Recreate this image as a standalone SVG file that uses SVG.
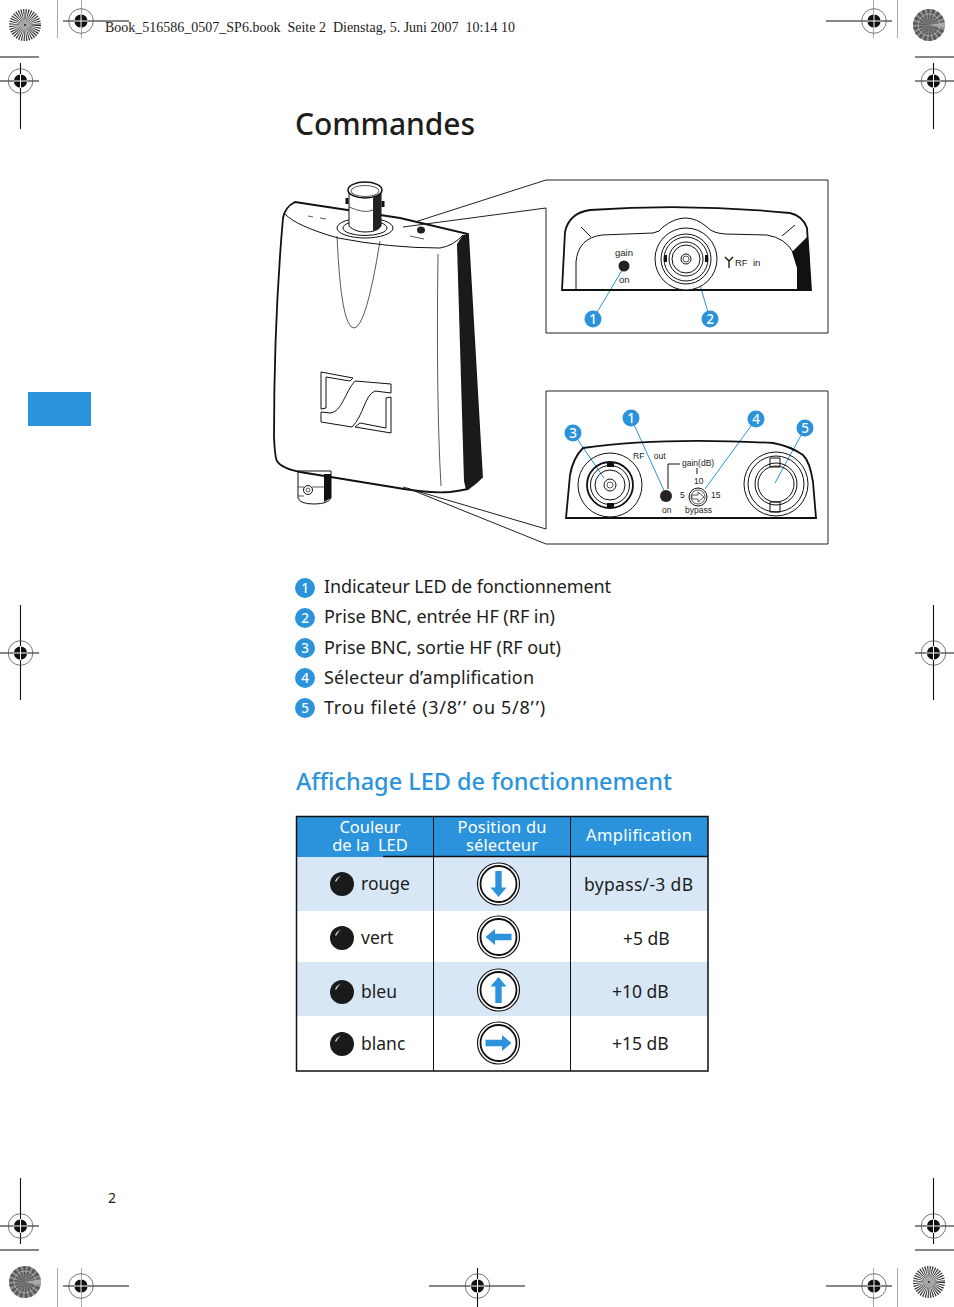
<svg xmlns="http://www.w3.org/2000/svg" width="954" height="1307" viewBox="0 0 954 1307">
<style>
text{font-family:"Noto Sans","Open Sans",sans-serif;fill:#1d1d1b}
.l{font-size:18px}
.h{font-size:16.500px;fill:#fff;text-anchor:middle}
.c{font-size:17.500px}
.lab{font-size:8.500px;font-family:"Liberation Sans",sans-serif;fill:#222}
.lab2{font-size:9.500px;font-family:"Liberation Sans",sans-serif;fill:#222}
.o{fill:none;stroke:#111;stroke-width:1}
.o2{fill:none;stroke:#111;stroke-width:1.800}
.t{fill:none;stroke:#111;stroke-width:.7}
.box{fill:none;stroke:#222;stroke-width:1}
.b{fill:none;stroke:#2a93dc;stroke-width:1}
.n{fill:#2a93dc}
.nt{font-size:13.500px;fill:#fff;text-anchor:middle;font-weight:500}
.k{stroke:#111;stroke-width:1.100;fill:none}
.g{stroke:#aaa;stroke-width:1;fill:none}
.a{fill:#2a93dc}
</style>
<defs>
<g id="reg"><circle r="12.300" fill="none" stroke="#555" stroke-width=".8"/><circle r="6.600" fill="#111"/><path d="M-7 0H7M0-7V7" stroke="#fff" stroke-width="1"/></g>
<g id="wheel"><circle r="16" fill="#fff"/><circle r="8" fill="none" stroke="#333" stroke-width="16" stroke-dasharray=".7 .7"/><circle r="5" fill="#aaa" opacity=".8"/><circle r="1" fill="#222"/></g>
<g id="wheeld"><circle r="16" fill="#8a8a8a"/><circle r="8" fill="none" stroke="#333" stroke-width="16" stroke-dasharray="1.400 1.400" opacity=".6"/><circle r="11" fill="none" stroke="#ccc" stroke-width="1" opacity=".6"/><path d="M0 0L16-3V3Z" fill="#aaa"/></g>
<g id="ledg"><circle r="12" fill="#1a1a1a"/><path d="M-7-3Q-5-7-1-8.500Q-4-6-6-2Z" fill="#ccc"/></g>
<g id="dial"><circle r="21" fill="#fff" stroke="#111" stroke-width="1.200"/><circle r="18" fill="none" stroke="#111" stroke-width="1.800"/></g>
<g id="arrow"><path class="a" d="M-3.200-13H3.200V3.500H8L0 13L-8 3.500H-3.200Z"/></g>
</defs>

<g id="printmarks">
<path class="k" d="M63 21H129M0 81H39M20.500 63V129M0 57H39M915 81H954M933.500 63V129M915 57H954M826 21H892M0 653H39M20.500 605V700M915 653H954M933.500 605V700M0 1226H39M20.500 1178V1244M0 1250H39M915 1226H954M933.500 1178V1244M915 1250H954M63 1286H129M429 1286H525M477.500 1268V1307M826 1286H892"/>
<path class="g" d="M57.500 0V38M81.500 0V38M897.500 0V38M873.500 0V38M57.500 1268V1307M81.500 1268V1307M897.500 1268V1307M873.500 1268V1307"/>
<use href="#reg" x="81" y="21"/><use href="#reg" x="20.500" y="81"/><use href="#reg" x="874" y="21"/><use href="#reg" x="933.500" y="81"/>
<use href="#reg" x="20.500" y="653"/><use href="#reg" x="933.500" y="653"/><use href="#reg" x="20.500" y="1226"/><use href="#reg" x="933.500" y="1226"/>
<use href="#reg" x="81" y="1286"/><use href="#reg" x="477.500" y="1286"/><use href="#reg" x="874" y="1286"/>
<use href="#wheel" x="25" y="25"/><use href="#wheeld" x="929" y="25"/><use href="#wheeld" x="25" y="1282"/><use href="#wheel" x="929" y="1282"/>
</g>
<text x="105" y="32" style="font-family:'Liberation Serif',serif;font-size:14px" xml:space="preserve">Book_516586_0507_SP6.book  Seite 2  Dienstag, 5. Juni 2007  10:14 10</text>
<rect id="tab" x="28" y="392" width="63" height="34" fill="#2a93dc"/>
<text x="295" y="135" textLength="180" style="font-size:30px;font-weight:500">Commandes</text>

<g id="device">
<path d="M298 471H331V498Q328 504 314 504Q300 504 298 498Z" fill="#fff" stroke="#111"/>
<path d="M324 474H331V498L324 502Z" fill="#111"/>
<circle cx="308" cy="490" r="4.500" class="o"/><circle cx="308" cy="490" r="2" class="t"/><path class="t" d="M298 487H304M312 487H324M298 496H304"/>
<path class="o2" d="M295 202Q285 207 283 218Q274 320 274 437Q275 458 277 461Q281 468 300 472L392 487Q430 494 450 492Q458 491 468 489L482 477L468 234L400 218L295 202Z" fill="#fff"/>
<path d="M457 244L463 235L468 234L482 476Q480 483 466 490L464 481Z" fill="#1a1a1a"/>
<path class="o" d="M285 214Q296 226 338 238Q390 248 440 248Q453 246 463 235"/>
<path class="t" d="M337 236Q341 328 354 328Q366 328 380 241"/>
<path class="t" d="M438 254Q436 400 441 486"/>
<path class="o" d="M321 372L353 378L350 381L326 377V408L321 409Z"/>
<path class="o" d="M321 412L330 413C342 412 345 392 355 381L391 384V393L375 391C364 396 364 415 352 427L321 422Z"/>
<path class="o" d="M391 397V433L355 427L360 423L386 428V398Z"/>
<ellipse cx="365" cy="228" rx="28" ry="10" class="o" fill="#fff"/>
<ellipse cx="365" cy="228" rx="22" ry="7.500" class="o"/>
<path d="M349 191V226Q355 232 365 232Q378 232 381 226V191Z" fill="#fff" stroke="#111"/>
<path d="M373 198L381 191V226Q378 230 373 231Z" fill="#222"/>
<path d="M347 198V204M383 201V207" stroke="#111" stroke-width="3"/>
<ellipse cx="365" cy="190" rx="17" ry="8" fill="#fff" stroke="#111" stroke-width="1.500"/>
<ellipse cx="365" cy="191" rx="14" ry="5.500" class="t"/>
<path class="t" d="M349 207Q365 214 373 210"/>
<ellipse cx="421" cy="230" rx="4" ry="3.500" fill="#222"/>
<path class="t" d="M410 236L424 239M320 218L326 219M308 216L313 217"/>
</g>

<g id="connectors">
<path class="box" d="M415 222L546 180H828V333H546V208L403 227"/>
<path class="box" d="M403 487L546 529V391H828V544H546L407 488"/>
<path class="b" d="M593 319L624 267M710 319L695 268M573 433L604 478M631 418L666 495M756 419L705 489M805 428L775 483"/>
</g>

<g id="detail-top">
<path d="M792 252L807 237L809 250L811 290H797V268Z" fill="#111"/>
<path class="o2" d="M562 290H811L807 228Q803 216 790 213Q690 203 590 210Q569 213 565 232Z"/>
<path class="o" d="M576 289V262Q578 238 602 235L653 233Q660 232 663 227Q686 209 707 227Q712 233 725 234L767 235Q785 238 793 252M581 227L591 237M795 225L782 236"/>
<circle cx="686" cy="259" r="31" fill="#fff" stroke="#111"/><circle cx="686" cy="259" r="25" class="o"/><circle cx="686" cy="259" r="22" class="o"/><circle cx="686" cy="259" r="17" class="o"/><circle cx="686" cy="259" r="14" class="o"/><circle cx="686" cy="259" r="5" class="o"/><circle cx="686" cy="259" r="3" class="t"/>
<path d="M664 255H667V262H664ZM705 255H708V262H705Z" fill="#111"/>
<circle cx="624" cy="266" r="5.500" fill="#222"/>
<path stroke="#111" stroke-width="1.300" fill="none" d="M725 257L729 261L733 257M729 261V268"/>
<text class="lab2" x="615" y="256">gain</text><text class="lab2" x="619" y="283">on</text><text class="lab2" x="735" y="266" xml:space="preserve">RF  in</text>
</g>

<g id="detail-bottom">
<path class="o2" d="M566 518H816L813 482Q810 462 803 455Q790 446 773 443Q660 437 583 448Q573 458 570 475Z"/>
<circle cx="610" cy="485" r="32" class="o" fill="#fff"/><circle cx="610" cy="485" r="23" class="o2"/><circle cx="610" cy="485" r="19.500" class="o"/><circle cx="610" cy="485" r="15" class="o"/><circle cx="610" cy="485" r="6" class="o"/><circle cx="610" cy="485" r="3" class="t"/>
<path d="M607 463H614V467H607ZM607 503H614V508H607Z" fill="#111"/>
<circle cx="776" cy="484" r="32" class="o" fill="#fff"/><circle cx="776" cy="484" r="28" class="o"/><circle cx="776" cy="484" r="18" class="o"/><circle cx="776" cy="484" r="21" class="o"/>
<path class="o" d="M770 458H780V467H770ZM770 502H780V512H770Z" fill="#fff"/>
<circle cx="666" cy="496" r="6" fill="#222"/>
<circle cx="698" cy="497" r="9" class="o" fill="#fff"/><circle cx="698" cy="497" r="7" class="t"/>
<path class="t" d="M692 495H698V492L704 497L698 502V499H692Z"/>
<path class="o" d="M668 489V464H680M697 468V474"/>
<text class="lab" x="633" y="459" xml:space="preserve">RF    out</text><text class="lab" x="682" y="466">gain(dB)</text><text class="lab" x="694" y="484">10</text><text class="lab" x="680" y="498">5</text><text class="lab" x="711" y="498">15</text><text class="lab" x="662" y="513">on</text><text class="lab" x="685" y="513">bypass</text>
</g>

<g id="badges">
<circle class="n" cx="593" cy="319" r="8.500"/><text class="nt" x="593" y="324">1</text>
<circle class="n" cx="710" cy="319" r="8.500"/><text class="nt" x="710" y="324">2</text>
<circle class="n" cx="573" cy="433" r="8.500"/><text class="nt" x="573" y="438">3</text>
<circle class="n" cx="631" cy="418" r="8.500"/><text class="nt" x="631" y="423">1</text>
<circle class="n" cx="756" cy="419" r="8.500"/><text class="nt" x="756" y="424">4</text>
<circle class="n" cx="805" cy="428" r="8.500"/><text class="nt" x="805" y="433">5</text>
</g>

<g id="legend">
<circle class="n" cx="305" cy="588" r="10"/><text class="nt" x="305" y="593">1</text><text class="l" x="324" y="593" textLength="287">Indicateur LED de fonctionnement</text>
<circle class="n" cx="305" cy="618" r="10"/><text class="nt" x="305" y="623">2</text><text class="l" x="324" y="623" textLength="231">Prise BNC, entrée HF (RF in)</text>
<circle class="n" cx="305" cy="648" r="10"/><text class="nt" x="305" y="653">3</text><text class="l" x="324" y="654" textLength="237">Prise BNC, sortie HF (RF out)</text>
<circle class="n" cx="305" cy="678" r="10"/><text class="nt" x="305" y="683">4</text><text class="l" x="324" y="684" textLength="210">Sélecteur d’amplification</text>
<circle class="n" cx="305" cy="708" r="10"/><text class="nt" x="305" y="713">5</text><text class="l" x="324" y="714" style="letter-spacing:.7px">Trou fileté (3/8’<tspan dx="1.500">’</tspan> ou 5/8’<tspan dx="1.500">’</tspan>)</text>
</g>
<text x="296" y="790" textLength="376" style="font-size:23.500px;font-weight:500;fill:#2a93dc">Affichage LED de fonctionnement</text>

<g id="table">
<rect x="297" y="817" width="411" height="40" fill="#2a93dc"/>
<rect x="297" y="857" width="411" height="54" fill="#d7e7f6"/>
<rect x="297" y="962" width="411" height="54" fill="#d7e7f6"/>
<path d="M383 856.500H708M296.500 816.500H708V1071H296.500Z" fill="none" stroke="#111" stroke-width="1.500"/>
<path d="M433.500 816V1071M570.500 816V1071" stroke="#111" stroke-width="1"/>
<text class="h" x="370" y="833">Couleur</text><text class="h" x="370" y="851" xml:space="preserve">de la  LED</text>
<text class="h" x="502" y="833" textLength="89">Position du</text><text class="h" x="502" y="851" textLength="72">sélecteur</text>
<text class="h" x="639" y="841" textLength="106">Amplification</text>
<use href="#ledg" x="342" y="884"/><text class="c" x="361" y="890">rouge</text>
<use href="#ledg" x="342" y="938"/><text class="c" x="361" y="944">vert</text>
<use href="#ledg" x="342" y="992"/><text class="c" x="361" y="998">bleu</text>
<use href="#ledg" x="342" y="1044"/><text class="c" x="361" y="1050">blanc</text>
<use href="#dial" x="498.500" y="884"/><use href="#arrow" x="498.500" y="884"/>
<use href="#dial" x="498.500" y="937"/><use href="#arrow" transform="translate(498.500 937) rotate(90)"/>
<use href="#dial" x="498.500" y="990"/><use href="#arrow" transform="translate(498.500 990) rotate(180)"/>
<use href="#dial" x="498.500" y="1043"/><use href="#arrow" transform="translate(498.500 1043) rotate(-90)"/>
<text class="c" x="584" y="891" textLength="109">bypass/-3 dB</text>
<text class="c" x="623" y="945">+5 dB</text>
<text class="c" x="612" y="998">+10 dB</text>
<text class="c" x="612" y="1050">+15 dB</text>
</g>
<text x="108" y="1203" style="font-size:14px">2</text>
</svg>
